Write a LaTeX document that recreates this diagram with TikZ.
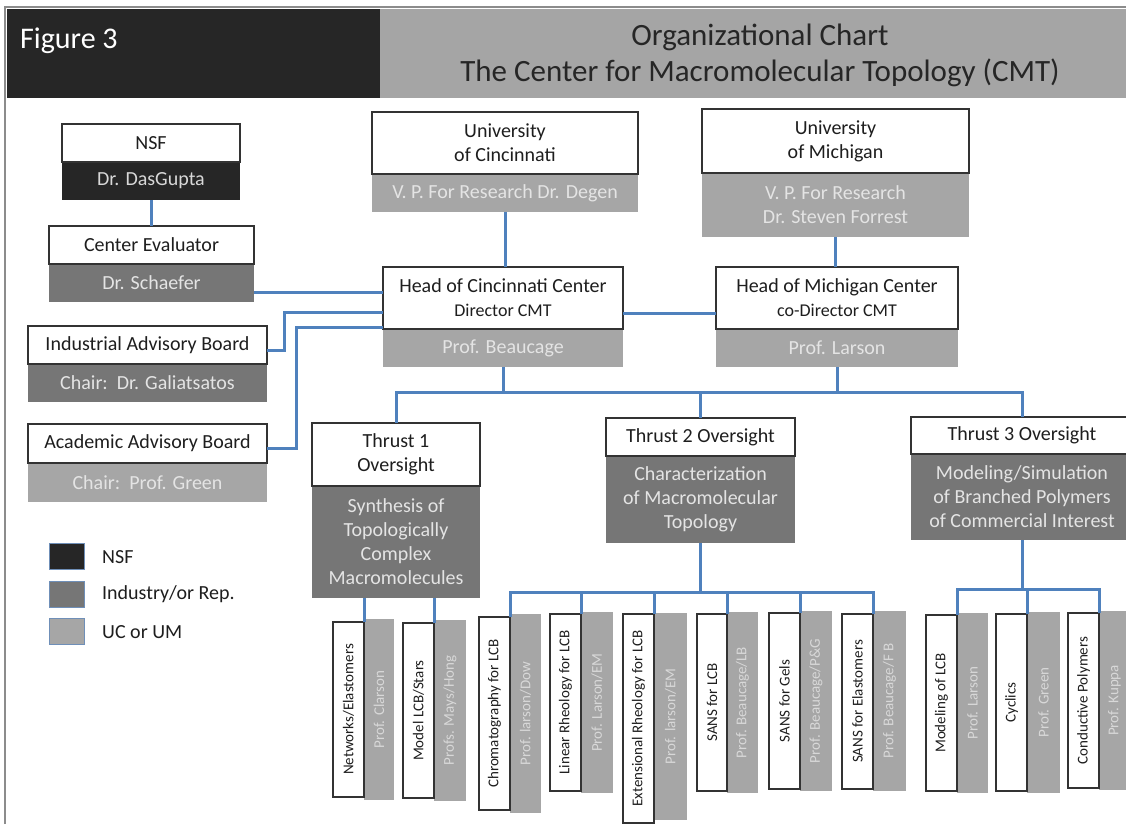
\documentclass[tikz,border=0pt]{standalone}
\usepackage{fontspec}
\setmainfont{Carlito}
\usepackage{graphicx}
\usetikzlibrary{calc}

\definecolor{hblack}{HTML}{262626}
\definecolor{hgray}{HTML}{A5A5A5}
\definecolor{dgray}{HTML}{767676}
\definecolor{lgray}{HTML}{A6A6A6}
\definecolor{connblue}{HTML}{4F81BD}
\definecolor{edgec}{HTML}{333333}
\definecolor{txtc}{HTML}{1E1E1E}
\definecolor{ltxt}{HTML}{E4E4E4}
\definecolor{leaftxt}{HTML}{D8D8D8}
\definecolor{framec}{HTML}{8C8C8C}
\definecolor{legedge}{HTML}{6F8FB8}

\tikzset{
  conn/.style={draw=connblue, line width=3pt},
  wbox/.style={draw=edgec, line width=1.3pt, fill=white, inner sep=0pt, outer sep=0pt,
    align=center, text=txtc, font=\fontsize{20}{24}\selectfont},
  pbox/.style={fill=#1, inner sep=0pt, outer sep=0pt, align=center, text=ltxt,
    font=\fontsize{20}{24}\selectfont},
  leafw/.style={wbox, font=\fontsize{15}{17}\selectfont},
  leafg/.style={pbox=lgray, text=leaftxt, font=\fontsize{15}{17}\selectfont},
  legbox/.style={pbox=#1, draw=legedge, line width=0.8pt},
  legtxt/.style={anchor=west, inner sep=0pt, text=txtc, font=\fontsize{20}{24}\selectfont},
}

% box from (x1,y1) to (x2,y2), y measured downwards
\newcommand\bx[7]{\node[#6, minimum width={(#4-#2)*1pt}, minimum height={(#5-#3)*1pt}] (#1) at ({(#2+#4)/2},{(#3+#5)/2}) {#7};}
\newcommand\rot[1]{\rotatebox{90}{#1}}

\begin{document}
\begin{tikzpicture}[x=1pt,y=-1pt]
\useasboundingbox (0,0) rectangle (1126,824);

% header
\bx{hdrl}{7}{9}{380}{98}{pbox=hblack}{}
\bx{hdrr}{380}{9}{1126}{98}{pbox=hgray}{}
\node[anchor=west, inner sep=0pt, text=white, font=\fontsize{30}{36}\selectfont] (fig) at (20,41) {Figure 3};
\node[align=center, inner sep=0pt, text=hblack, font=\fontsize{31}{36}\selectfont] (title) at (760,55)
  {Organizational Chart\\The Center for Macromolecular Topology (CMT)};
\draw[framec, line width=1.5pt] (5,824) -- (5,7) -- (1126,7);

% sponsors and university administration
\bx{nsfp}{62}{162}{240}{200}{pbox=hblack, text=leaftxt}{Dr. DasGupta}
\bx{nsf}{62}{124}{240}{162}{wbox}{NSF}
\bx{cep}{49}{264}{254}{302}{pbox=dgray}{Dr. Schaefer}
\bx{ce}{49}{226}{254}{264}{wbox}{Center Evaluator}
\bx{iabp}{28}{364}{267}{402}{pbox=dgray}{Chair:\ \ Dr. Galiatsatos}
\bx{iab}{28}{326}{267}{364}{wbox}{Industrial Advisory Board}
\bx{aabp}{28}{463}{267}{502}{pbox=lgray}{Chair:\ \ Prof. Green}
\bx{aab}{28}{424}{267}{463}{wbox}{Academic Advisory Board}

\bx{ucp}{372}{174}{638}{212}{pbox=lgray}{V. P. For Research Dr. Degen}
\bx{uc}{372}{112}{638}{174}{wbox}{University\\of Cincinnati}
\bx{ump}{702}{173}{969}{237}{pbox=lgray}{V. P. For Research\\Dr. Steven Forrest}
\bx{um}{702}{109}{969}{173}{wbox}{University\\of Michigan}

% center heads
\bx{cip}{383}{329}{623}{367}{pbox=lgray}{Prof. Beaucage}
\bx{ci}{383}{267}{623}{329}{wbox}{Head of Cincinnati Center\\{\fontsize{18}{20}\selectfont Director CMT}}
\bx{mip}{716}{329}{958}{367}{pbox=lgray}{Prof. Larson}
\bx{mi}{716}{267}{958}{329}{wbox}{Head of Michigan Center\\{\fontsize{18}{20}\selectfont co-Director CMT}}

% thrusts
\bx{t1p}{312}{486}{480}{598}{pbox=dgray}{Synthesis of\\Topologically\\Complex\\Macromolecules}
\bx{t1}{312}{423}{480}{486}{wbox}{Thrust 1\\Oversight}
\bx{t2p}{606}{456}{795}{543}{pbox=dgray}{Characterization\\of Macromolecular\\Topology}
\bx{t2}{606}{418}{795}{456}{wbox}{Thrust 2 Oversight}
\bx{t3p}{911}{454}{1133}{540}{pbox=dgray}{Modeling/Simulation\\of Branched Polymers\\of Commercial Interest}
\bx{t3}{911}{417}{1133}{454}{wbox}{Thrust 3 Oversight}

% legend
\bx{lg1}{49}{543}{84}{569}{legbox=hblack}{}
\bx{lg2}{49}{581}{84}{607}{legbox=dgray}{}
\bx{lg3}{49}{618}{84}{644}{legbox=lgray}{}
\node[legtxt] (lt1) at (102,557) {NSF};
\node[legtxt] (lt2) at (102,594) {Industry/or Rep.};
\node[legtxt] (lt3) at (102,632) {UC or UM};

% projects (grey = investigator, white = topic)
\bx{l1g}{364}{619}{394}{800}{leafg}{\rot{Prof. Clarson}}
\bx{l1w}{333}{622}{364}{797}{leafw}{\rot{Networks/Elastomers}}
\bx{l2g}{434}{620}{466}{801}{leafg}{\rot{Profs. Mays/Hong}}
\bx{l2w}{403}{623}{434}{798}{leafw}{\rot{Model LCB/Stars}}
\bx{l3g}{510}{614}{541}{813}{leafg}{\rot{Prof. larson/Dow}}
\bx{l3w}{479}{617}{510}{810}{leafw}{\rot{Chromatography for LCB}}
\bx{l4g}{581}{612}{613}{793}{leafg}{\rot{Prof. Larson/EM}}
\bx{l4w}{550}{614}{581}{791}{leafw}{\rot{Linear Rheology for LCB}}
\bx{l5g}{654}{613}{687}{820}{leafg}{\rot{Prof. larson/EM}}
\bx{l5w}{623}{614}{654}{823}{leafw}{\rot{Extensional Rheology for LCB}}
\bx{l6g}{727}{612}{758}{793}{leafg}{\rot{Prof. Beaucage/LB}}
\bx{l6w}{697}{614}{727}{791}{leafw}{\rot{SANS for LCB}}
\bx{l7g}{800}{611}{832}{791}{leafg}{\rot{Prof. Beaucage/P\&G}}
\bx{l7w}{769}{613}{800}{789}{leafw}{\rot{SANS for Gels}}
\bx{l8g}{873}{611}{906}{791}{leafg}{\rot{Prof. Beaucage/F B}}
\bx{l8w}{842}{614}{873}{789}{leafw}{\rot{SANS for Elastomers}}
\bx{l9g}{957}{613}{988}{793}{leafg}{\rot{Prof. Larson}}
\bx{l9w}{926}{615}{957}{791}{leafw}{\rot{Modeling of LCB}}
\bx{l10g}{1027}{612}{1060}{793}{leafg}{\rot{Prof. Green}}
\bx{l10w}{996}{614}{1027}{791}{leafw}{\rot{Cyclics}}
\bx{l11g}{1099}{611}{1130}{790}{leafg}{\rot{Prof. Kuppa}}
\bx{l11w}{1068}{613}{1099}{788}{leafw}{\rot{Conductive Polymers}}

% connectors
\draw[conn] (nsfp.south) -- (nsfp.south |- ce.north);
\draw[conn] (ucp.south) -- (ucp.south |- ci.north);
\draw[conn] (ump.south) -- (ump.south |- mi.north);
\coordinate (hm) at ($(ci.south east)!0.25!(ci.north east)$);
\draw[conn] (hm) -- (hm -| mi.west);
\coordinate (sch) at ($(cep.north east)!0.75!(cep.south east)$);
\draw[conn] (sch) -- (sch -| ci.west);
\draw[conn] ($(iab.north east)!0.65!(iab.south east)$) -- ++(17,0) |- ($(ci.north west)!0.73!(ci.south west)$);
\draw[conn] ($(aab.north east)!0.63!(aab.south east)$) -- ++(29,0) |- ($(ci.north west)!0.97!(ci.south west)$);

\coordinate (busA) at ($(cip.south)+(0,25)$);
\draw[conn] (cip.south) -- (busA);
\draw[conn] (mip.south) -- (mip.south |- busA);
\draw[conn] (t1.north) |- (busA) -| (t3.north);
\draw[conn] (t2.north) -- (t2.north |- busA);

\draw[conn] (t1p.south -| l1w.north east) -- (l1w.north east);
\draw[conn] (t1p.south -| l2w.north east) -- (l2w.north east);

\coordinate (busB) at ($(t2p.south)+(0,49)$);
\draw[conn] (t2p.south) -- (busB);
\draw[conn] (l3w.north east) |- (busB) -| (l8w.north east);
\draw[conn] (l4w.north east) -- (l4w.north east |- busB);
\draw[conn] (l5w.north east) -- (l5w.north east |- busB);
\draw[conn] (l6w.north east) -- (l6w.north east |- busB);
\draw[conn] (l7w.north east) -- (l7w.north east |- busB);

\coordinate (busC) at ($(t3p.south)+(0,49)$);
\draw[conn] (t3p.south) -- (busC);
\draw[conn] (l9w.north east) |- (busC) -| (l11w.north east);
\draw[conn] (l10w.north east) -- (l10w.north east |- busC);
\end{tikzpicture}
\end{document}
